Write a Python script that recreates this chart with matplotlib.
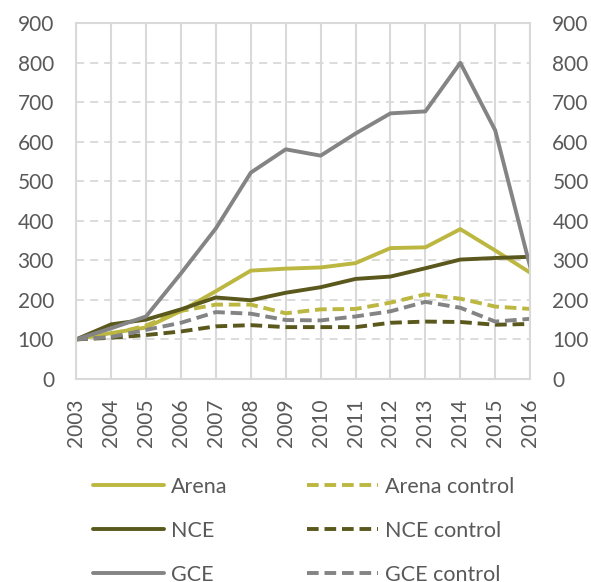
import numpy as np
import matplotlib.pyplot as plt

plt.rcParams['font.family'] = ['Lato', 'DejaVu Sans']

years = list(range(2003, 2017))
arena = [100, 116, 130, 172, 222, 274, 279, 282, 293, 331, 333, 379, 325, 269]
arena_control = [100, 113, 135, 172, 188, 188, 166, 176, 177, 193, 214, 203, 183, 177]
nce = [100, 138, 150, 176, 206, 199, 218, 232, 253, 259, 280, 302, 306, 309]
nce_control = [100, 104, 111, 120, 133, 136, 131, 131, 131, 142, 145, 144, 137, 139]
gce = [100, 128, 158, 267, 381, 522, 581, 565, 621, 672, 677, 800, 629, 284]
gce_control = [100, 106, 124, 142, 169, 165, 149, 148, 158, 171, 195, 180, 145, 152]

c_arena = '#BCB740'
c_nce = '#5A581C'
c_gce = '#848484'
grid_c = '#D9D9D9'
txt_c = '#595959'

fig = plt.figure(figsize=(5.91, 5.82), dpi=100)
ax = fig.add_axes([0.129, 0.349, 0.768, 0.611])

lw = 2.8
dash = (0, (3, 1.5))
l1, = ax.plot(years, arena, color=c_arena, lw=lw, label='Arena')
l2, = ax.plot(years, arena_control, color=c_arena, lw=lw, ls=dash, label='Arena control')
l3, = ax.plot(years, nce, color=c_nce, lw=lw, label='NCE')
l4, = ax.plot(years, nce_control, color=c_nce, lw=lw, ls=dash, label='NCE control')
l5, = ax.plot(years, gce, color=c_gce, lw=lw, label='GCE')
l6, = ax.plot(years, gce_control, color=c_gce, lw=lw, ls=dash, label='GCE control')

ax.set_xlim(2003, 2016)
ax.set_ylim(0, 900)
ax.set_xticks(years)
ax.set_xticklabels([str(y) for y in years], rotation=90)
ax.set_yticks(np.arange(0, 901, 100))
ax.tick_params(length=0, labelsize=15, colors=txt_c)
ax.tick_params(axis='y', pad=16)
ax.tick_params(axis='x', pad=14, labelsize=15)

ax.xaxis.grid(True, color=grid_c, lw=1.5)
ax.yaxis.grid(True, color=grid_c, lw=1.3, ls=(0, (4.5, 3.3)))
ax.set_axisbelow(True)
for s in ax.spines.values():
    s.set_color(grid_c)
    s.set_linewidth(1.5)

ax2 = ax.twinx()
ax2.set_ylim(0, 900)
ax2.set_yticks(np.arange(0, 901, 100))
ax2.tick_params(length=0, labelsize=15, colors=txt_c, pad=16)
for s in ax2.spines.values():
    s.set_visible(False)

handles = [l1, l3, l5, l2, l4, l6]
labels = [h.get_label() for h in handles]
leg = fig.legend(handles, labels, ncol=2, loc='upper left', bbox_to_anchor=(0.157, 0.181),
                 frameon=False, fontsize=15.5, handlelength=3.3, handletextpad=0.33,
                 columnspacing=3.7, labelspacing=1.12, labelcolor=txt_c, borderpad=0,
                 borderaxespad=0)
for h in leg.legend_handles:
    h.set_solid_capstyle('round')

fig.savefig('out.png', dpi=100)
